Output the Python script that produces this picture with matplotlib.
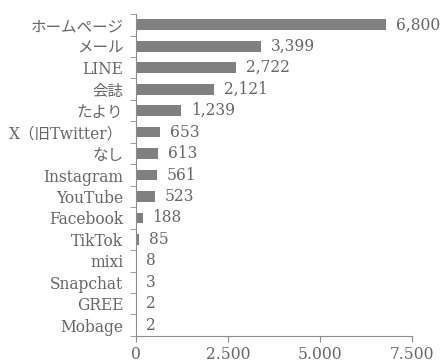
import matplotlib
matplotlib.use("Agg")
from matplotlib import pyplot as plt
from matplotlib.ticker import FixedLocator, FuncFormatter

plt.rcParams["font.family"] = ["DejaVu Serif", "Noto Sans CJK JP"]

categories = [
    "ホームページ", "メール", "LINE", "会誌", "たより", "X（旧Twitter）", "なし",
    "Instagram", "YouTube", "Facebook", "TikTok", "mixi", "Snapchat", "GREE",
    "Mobage",
]
values = [6800, 3399, 2722, 2121, 1239, 653, 613, 561, 523, 188, 85, 8, 3, 2, 2]
x_ticks = [0, 2500, 5000, 7500]

text_color = "#666666"
bar_color = "#808080"
axis_color = "#8c8c8c"
fsize = 11.2

fig = plt.figure(figsize=(4.44, 3.62), dpi=100)
ax = fig.add_axes([0.306, 0.072, 0.622, 0.889])

pos = list(range(len(categories)))
ax.barh(pos, values, height=0.5, color=bar_color)
for p, v in zip(pos, values):
    ax.annotate(f"{v:,}", (v, p), xytext=(7, 0), textcoords="offset points",
                va="center", ha="left", fontsize=fsize, color=text_color)

ax.set_ylim(len(categories) - 0.5, -0.5)
ax.set_xlim(0, 7500)
ax.set_yticks(pos)
ax.set_yticklabels(categories)
ax.yaxis.set_minor_locator(FixedLocator([i - 0.5 for i in range(len(categories) + 1)]))
ax.tick_params(axis="y", which="major", length=0, pad=9, labelsize=fsize,
               labelcolor=text_color)
ax.tick_params(axis="y", which="minor", length=4, color=axis_color)

ax.set_xticks(x_ticks)
ax.xaxis.set_major_formatter(FuncFormatter(lambda v, _: f"{int(v):,}".replace(",", ".")))
ax.tick_params(axis="x", length=4, color=axis_color, labelsize=fsize,
               labelcolor=text_color, pad=3)

for side in ["top", "right"]:
    ax.spines[side].set_visible(False)
for side in ["left", "bottom"]:
    ax.spines[side].set_color(axis_color)

fig.savefig("out.png", dpi=100)
